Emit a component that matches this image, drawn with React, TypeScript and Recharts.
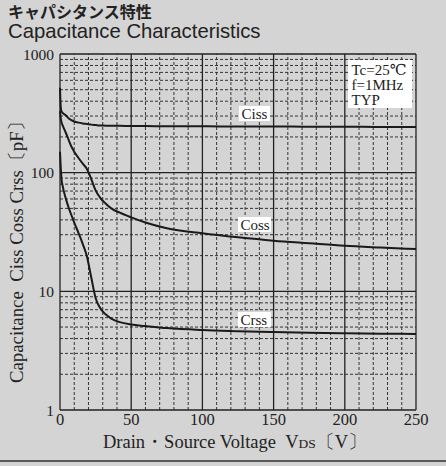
import React from "react";
import { LineChart, Line, XAxis, YAxis, ReferenceLine } from "recharts";

const voltages = [0, 0.5, 1, 2, 4, 6, 8, 10, 13, 16, 19, 22, 25, 28, 32, 36, 42, 50, 60, 75, 100, 125, 150, 175, 200, 225, 250];
const ciss = [520, 360, 330, 318, 305, 288, 277, 270, 264, 260, 257, 254, 252, 250, 249, 248, 248, 247, 247, 246, 246, 245, 245, 244, 244, 243, 243];
const coss = [330, 290, 268, 248, 218, 190, 166, 150, 133, 119, 107, 88, 71, 62, 55, 50, 46, 42, 38, 34, 30.8, 28.5, 26.7, 25.4, 24.2, 23.4, 22.7];
const crss = [150, 112, 90, 76, 61, 51, 44, 38, 31, 25, 19.5, 13, 8.8, 7.3, 6.4, 5.9, 5.5, 5.25, 5.1, 4.9, 4.72, 4.62, 4.54, 4.48, 4.43, 4.4, 4.37];

const xTicks = [0, 50, 100, 150, 200, 250];
const yTicks = [1, 10, 100, 1000];
const xMinor = [10, 20, 30, 40, 60, 70, 80, 90, 110, 120, 130, 140, 160, 170, 180, 190, 210, 220, 230, 240];
const yMinor = [2, 3, 4, 5, 6, 7, 8, 9, 20, 30, 40, 50, 60, 70, 80, 90, 200, 300, 400, 500, 600, 700, 800, 900];

const data = voltages.map((v, i) => ({ v, ciss: ciss[i], coss: coss[i], crss: crss[i] }));

const SERIF = "'Liberation Serif', 'DejaVu Serif', serif";
const INK = "#222";

export default function App() {
  return (
    <div style={{ position: "absolute", left: 0, top: 0, width: 446, height: 466, background: "#d4d4d4" }}>
      <LineChart width={446} height={466} data={data} margin={{ top: 54, right: 30, left: 20, bottom: 26 }}>
        <XAxis
          dataKey="v"
          type="number"
          domain={[0, 250]}
          ticks={xTicks}
          axisLine={false}
          tickLine={false}
          tickSize={0}
          tickMargin={3}
          height={30}
          interval={0}
          tick={{ fill: INK, fontSize: 16.5, fontFamily: SERIF }}
        />
        <YAxis
          type="number"
          scale="log"
          domain={[1, 1000]}
          ticks={yTicks}
          allowDataOverflow
          axisLine={false}
          tickLine={false}
          tickSize={0}
          tickMargin={6}
          width={40}
          interval={0}
          tick={{ fill: INK, fontSize: 15.5, fontFamily: SERIF }}
        />
        {xMinor.map((x) => (
          <ReferenceLine key={"xm" + x} x={x} stroke="#333" strokeWidth={1} strokeDasharray="3 2" />
        ))}
        {yMinor.map((y) => (
          <ReferenceLine key={"ym" + y} y={y} stroke="#333" strokeWidth={1} strokeDasharray="3 2" />
        ))}
        {xTicks.map((x) => (
          <ReferenceLine key={"xM" + x} x={x} stroke="#222" strokeWidth={1.3} />
        ))}
        {yTicks.map((y) => (
          <ReferenceLine key={"yM" + y} y={y} stroke="#222" strokeWidth={1.3} />
        ))}
        <Line type="monotone" dataKey="ciss" stroke="#1a1a1a" strokeWidth={2} dot={false} isAnimationActive={false} />
        <Line type="monotone" dataKey="coss" stroke="#1a1a1a" strokeWidth={2} dot={false} isAnimationActive={false} />
        <Line type="monotone" dataKey="crss" stroke="#1a1a1a" strokeWidth={2} dot={false} isAnimationActive={false} />
      </LineChart>
      <svg width={446} height={466} style={{ position: "absolute", left: 0, top: 0, pointerEvents: "none" }}>
        <text x={8} y={17.5} fontSize={16} fontWeight={700} fill={INK} fontFamily="'Noto Sans CJK JP', sans-serif">
          キャパシタンス特性
        </text>
        <text x={8} y={38} fontSize={20.3} fill={INK} fontFamily="'Liberation Sans', Arial, sans-serif">
          Capacitance Characteristics
        </text>
        <rect x={348} y={60} width={64} height={48} fill="#fff" />
        <text x={351.5} y={75} fontSize={15} fill={INK} fontFamily={SERIF}>Tc=25℃</text>
        <text x={351.5} y={90} fontSize={15} fill={INK} fontFamily={SERIF}>f=1MHz</text>
        <text x={351.5} y={105} fontSize={15} fill={INK} fontFamily={SERIF}>TYP</text>
        <rect x={239} y={106} width={31} height={15} fill="#fff" />
        <text x={241.5} y={119} fontSize={15} fill={INK} fontFamily={SERIF}>Ciss</text>
        <rect x={238} y={217} width={33} height={15} fill="#fff" />
        <text x={240.5} y={230} fontSize={15} fill={INK} fontFamily={SERIF}>Coss</text>
        <rect x={238} y={312} width={33} height={15} fill="#fff" />
        <text x={240.5} y={325} fontSize={15} fill={INK} fontFamily={SERIF}>Crss</text>
        <text x={103} y={447.5} fontSize={18.5} fill={INK} fontFamily={SERIF}>
          Drain・Source Voltage{"\u00a0\u00a0"}V<tspan fontSize={13.5}>DS</tspan>〔V〕
        </text>
        <text x={0} y={0} transform="translate(23,383) rotate(-90)" fontSize={18.8} fill={INK} fontFamily={SERIF}>
          Capacitance{"\u00a0\u00a0"}Ciss Coss Crss〔pF〕
        </text>
        <line x1={0} y1={461} x2={446} y2={461} stroke="#333" strokeWidth={1.5} />
      </svg>
    </div>
  );
}
